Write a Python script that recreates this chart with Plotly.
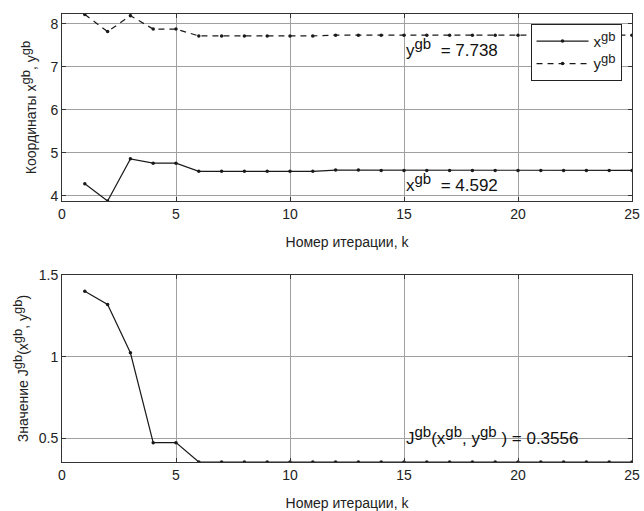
import plotly.graph_objects as go
from plotly.subplots import make_subplots

k = list(range(1, 26))
x_gb = [4.28, 3.88, 4.86, 4.76, 4.76, 4.57, 4.57, 4.57, 4.57, 4.57, 4.57,
        4.60, 4.60, 4.592, 4.592, 4.592, 4.592, 4.592, 4.592, 4.592, 4.592,
        4.592, 4.592, 4.592, 4.592]
y_gb = [8.22, 7.82, 8.19, 7.88, 7.88, 7.72, 7.72, 7.72, 7.72, 7.72, 7.72,
        7.738, 7.738, 7.738, 7.738, 7.738, 7.738, 7.738, 7.738, 7.738, 7.738,
        7.738, 7.738, 7.738, 7.738]
J_gb = [1.40, 1.32, 1.024, 0.474, 0.474] + [0.3556] * 20

x_ticks = [0, 5, 10, 15, 20, 25]
top_ticks = [4, 5, 6, 7, 8]
bot_ticks = [0.5, 1, 1.5]
bot_tick_text = ["0.5", "1", "1.5"]

FONT = "Liberation Sans, Arial, sans-serif"
LC = "#1a1a1a"
GRID = "#a0a0a0"
TXT = "#222"

SUP = '<sup><span style="font-size:13px">gb</span></sup>'
SUPA = '<sup><span style="font-size:15px">gb</span></sup>'

fig = make_subplots(rows=2, cols=1, vertical_spacing=0.165)

fig.add_trace(go.Scatter(x=k, y=x_gb, mode="lines+markers", name="x" + SUP,
                         line=dict(color=LC, width=1.2),
                         marker=dict(size=3.5, color=LC)), row=1, col=1)
fig.add_trace(go.Scatter(x=k, y=y_gb, mode="lines+markers", name="y" + SUP,
                         line=dict(color=LC, width=1.2, dash="6px,5px"),
                         marker=dict(size=3.5, color=LC)), row=1, col=1)
fig.add_trace(go.Scatter(x=k, y=J_gb, mode="lines+markers", showlegend=False,
                         line=dict(color=LC, width=1.2),
                         marker=dict(size=3.5, color=LC)), row=2, col=1)

axis_common = dict(showline=True, linecolor="#333", linewidth=1, mirror="ticks",
                   ticks="inside", ticklen=4, tickcolor="#333",
                   showgrid=True, gridcolor=GRID, gridwidth=1, zeroline=False,
                   automargin=False,
                   tickfont=dict(family=FONT, size=14, color=TXT))

title_font = dict(family=FONT, size=14, color=TXT)

for r in (1, 2):
    fig.update_xaxes(range=[0, 25], tickvals=x_ticks, row=r, col=1,
                     title=dict(text="Номер итерации, k", standoff=16, font=title_font),
                     **axis_common)

fig.update_yaxes(range=[3.88, 8.23], tickvals=top_ticks, row=1, col=1,
                 title=dict(text="Координаты x" + SUP + ", y" + SUP, standoff=10,
                            font=title_font),
                 **axis_common)
fig.update_yaxes(range=[0.3556, 1.5], tickvals=bot_ticks, ticktext=bot_tick_text, row=2, col=1,
                 title=dict(text="Значение J" + SUP + "(x" + SUP + ", y" + SUP + ")", standoff=6,
                            font=title_font),
                 **axis_common)

fig.update_layout(
    width=644, height=511,
    margin=dict(l=62, r=12, t=14, b=49),
    paper_bgcolor="white", plot_bgcolor="white",
    font=dict(family=FONT, size=14, color=TXT),
    legend=dict(x=0.822, y=0.978, xanchor="left", yanchor="top",
                bgcolor="white", bordercolor="#222", borderwidth=1,
                font=dict(family=FONT, size=15, color=TXT),
                tracegroupgap=0, itemwidth=52),
)
fig.update_xaxes(domain=[0, 1])
fig.layout.yaxis.domain = [0.5826, 1.0]
fig.layout.yaxis2.domain = [0.0, 0.4174]

ann_font = dict(family=FONT, size=17, color="#111")
fig.add_annotation(x=15, y=7.44, xref="x", yref="y", xanchor="left", yanchor="middle",
                   text="y" + SUPA + "  = 7.738", showarrow=False, font=ann_font)
fig.add_annotation(x=15, y=4.30, xref="x", yref="y", xanchor="left", yanchor="middle",
                   text="x" + SUPA + "  = 4.592", showarrow=False, font=ann_font)
fig.add_annotation(x=15, y=0.52, xref="x2", yref="y2", xanchor="left", yanchor="middle",
                   text="J" + SUPA + "(x" + SUPA + ", y" + SUPA + " ) = 0.3556",
                   showarrow=False, font=ann_font)

fig.write_html("out.html")
